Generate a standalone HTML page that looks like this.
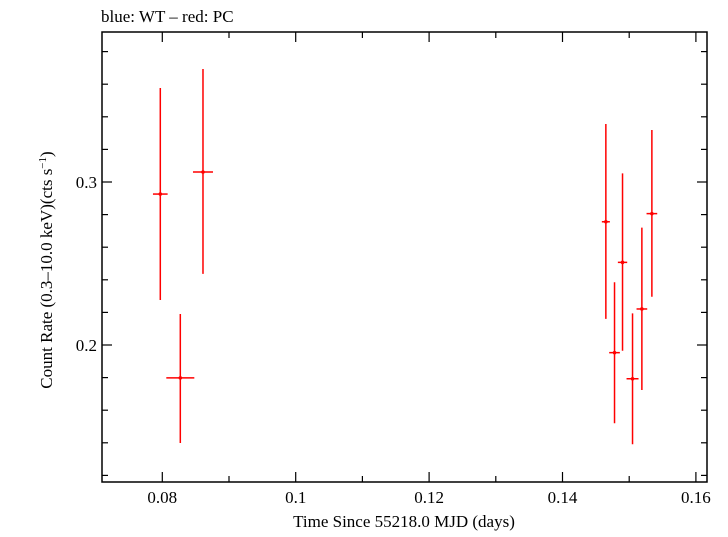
<!DOCTYPE html>
<html><head><meta charset="utf-8"><style>
body{margin:0;background:#fff;}
svg text{font-family:"Liberation Serif",serif;fill:#000;}
</style></head><body>
<svg id="chart" width="728" height="532">
<text x="101" y="22" font-size="17">blue: WT – red: PC</text>
<rect x="102" y="32" width="605" height="450" fill="none" stroke="#000" stroke-width="1.5"/>
<g id="axes"></g>
<g id="marks"></g>
<text x="404" y="527" font-size="17" text-anchor="middle">Time Since 55218.0 MJD (days)</text>
<text transform="translate(52,270) rotate(-90)" font-size="17" text-anchor="middle">Count Rate (0.3–10.0 keV)(cts s<tspan baseline-shift="super" font-size="11">−1</tspan>)</text>
</svg>
<script>
const times=[0.0797,0.0827,0.0861,0.1465,0.1478,0.1490,0.1505,0.1519,0.1534];
const timeErr=[0.0011,0.0021,0.0015,0.0006,0.0008,0.0007,0.0009,0.0008,0.0008];
const rates=[0.2926,0.1798,0.3061,0.2756,0.1953,0.2507,0.1793,0.2221,0.2806];
const rateHi=[0.3577,0.2190,0.3693,0.3356,0.2385,0.3053,0.2194,0.2720,0.3319];
const rateLo=[0.2276,0.1399,0.2436,0.2160,0.1520,0.1965,0.1391,0.1724,0.2296];
const xTicks=[0.08,0.1,0.12,0.14,0.16];
const xTickLabels=["0.08","0.1","0.12","0.14","0.16"];
const yTicks=[0.2,0.3];
const yTickLabels=["0.2","0.3"];
const L=102,R=707,T=32,B=482;
const X=t=>162.3+(t-0.08)*6670;
const Y=v=>182-(v-0.3)*1630;
const NS="http://www.w3.org/2000/svg";
const axes=document.getElementById('axes'),marks=document.getElementById('marks');
function line(p,x1,y1,x2,y2,c,w){const l=document.createElementNS(NS,'line');l.setAttribute('x1',x1);l.setAttribute('y1',y1);l.setAttribute('x2',x2);l.setAttribute('y2',y2);l.setAttribute('stroke',c);l.setAttribute('stroke-width',w);p.appendChild(l);return l;}
for(let t=0.07;t<=0.1701;t+=0.01){const x=X(t);if(x<L||x>R)continue;const major=Math.abs(Math.round(t*100)%2)===0;const len=major?10:6;
const a=line(axes,x,B,x,B-len,'#000',1.2);


const b=line(axes,x,T,x,T+len,'#000',1.2);

}
xTicks.forEach((t,i)=>{const tx=document.createElementNS(NS,'text');tx.setAttribute('x',X(t));tx.setAttribute('y',503);tx.setAttribute('font-size','17');tx.setAttribute('text-anchor','middle');tx.textContent=xTickLabels[i];


axes.appendChild(tx);});
for(let k=5;k<=20;k++){const v=k*0.02;const y=Y(v);if(y<T||y>B)continue;const major=(k%5===0);const len=major?10:6;
const a=line(axes,L,y,L+len,y,'#000',1.2);


const b=line(axes,R,y,R-len,y,'#000',1.2);

}
yTicks.forEach((v,i)=>{const tx=document.createElementNS(NS,'text');tx.setAttribute('x',97);tx.setAttribute('y',Y(v)+6);tx.setAttribute('font-size','17');tx.setAttribute('text-anchor','end');tx.textContent=yTickLabels[i];


axes.appendChild(tx);});
times.forEach((t,i)=>{const g=document.createElementNS(NS,'g');


line(g,X(t),Y(rateHi[i]),X(t),Y(rateLo[i]),'#f00',1.5);
line(g,X(t-timeErr[i]),Y(rates[i]),X(t+timeErr[i]),Y(rates[i]),'#f00',1.5);
const c=document.createElementNS(NS,'circle');c.setAttribute('cx',X(t));c.setAttribute('cy',Y(rates[i]));c.setAttribute('r',1.8);c.setAttribute('fill','#f00');g.appendChild(c);
marks.appendChild(g);});
</script>
</body></html>
